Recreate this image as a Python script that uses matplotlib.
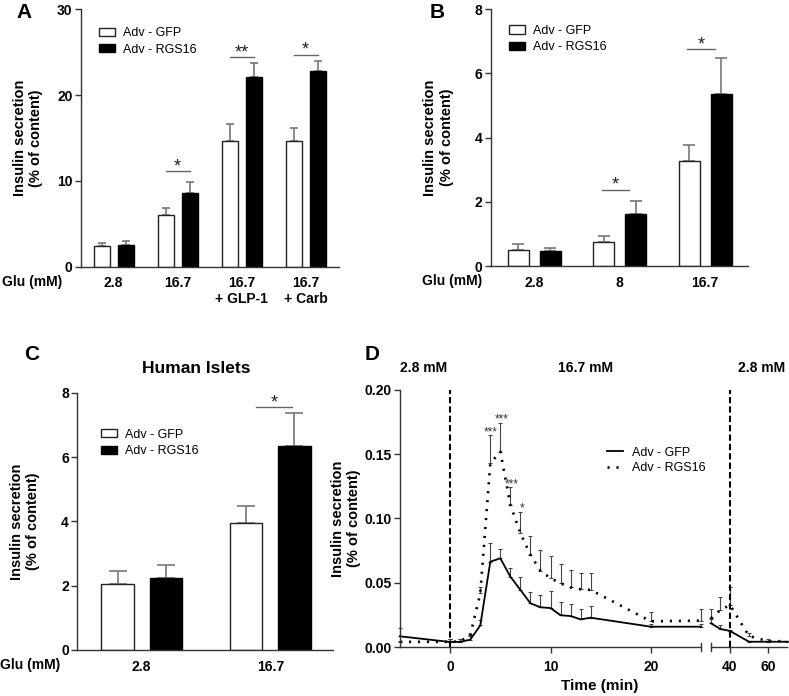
import numpy as np
import matplotlib
matplotlib.use("Agg")
import matplotlib.pyplot as plt
from matplotlib.lines import Line2D
from matplotlib.patches import Patch

plt.rcParams['font.family'] = ['Liberation Sans', 'DejaVu Sans']
plt.rcParams['font.weight'] = 'bold'

# ---- panel A ----
groups_a = ['2.8', '16.7', '16.7\n+ GLP-1', '16.7\n+ Carb']
gfp_a = [2.45, 6.0, 14.6, 14.7]
gfp_a_err = [0.27, 0.9, 2.0, 1.5]
rgs_a = [2.55, 8.55, 22.15, 22.8]
rgs_a_err = [0.4, 1.35, 1.65, 1.2]
sig_a = [(1, 11.15, '*'), (2, 24.4, '**'), (3, 24.7, '*')]

# ---- panel B ----
groups_b = ['2.8', '8', '16.7']
gfp_b = [0.50, 0.74, 3.26]
gfp_b_err = [0.175, 0.185, 0.50]
rgs_b = [0.457, 1.62, 5.37]
rgs_b_err = [0.10, 0.395, 1.10]
sig_b = [(1, 2.37, '*'), (2, 6.76, '*')]

# ---- panel C ----
groups_c = ['2.8', '16.7']
gfp_c = [2.04, 3.94]
gfp_c_err = [0.405, 0.55]
rgs_c = [2.23, 6.34]
rgs_c_err = [0.40, 1.03]
sig_c = [(1, 7.54, '*')]

# ---- panel D (perifusion) ----
t1 = [-5, 0, 1, 2, 3, 4, 5, 6, 7, 8, 9, 10, 11, 12, 13, 14, 20, 25]
gfp_d1 = [0.0083, 0.0039, 0.004, 0.0057, 0.0168, 0.0664, 0.069, 0.0547, 0.0444, 0.034,
          0.0309, 0.0303, 0.0247, 0.0241, 0.0215, 0.0228, 0.0158, 0.0158]
gfp_d1_err = [0.0067, 0.002, 0.002, 0.003, 0.004, 0.0143, 0.0073, 0.0065, 0.0103, 0.009,
              0.0096, 0.0135, 0.0106, 0.0094, 0.0081, 0.0094, 0.002, 0.002]
rgs_d1 = [0.004, 0.004, 0.0044, 0.0093, 0.0418, 0.143, 0.152, 0.1105, 0.0885, 0.0716,
          0.0594, 0.0535, 0.0496, 0.0464, 0.0449, 0.0444, 0.020, 0.0205]
rgs_d1_err = [0.001, 0.0022, 0.0018, 0.0012, 0.0052, 0.022, 0.0226, 0.0138, 0.0168, 0.015,
              0.0161, 0.0176, 0.015, 0.0135, 0.0129, 0.0129, 0.0075, 0.009]
t2 = [30, 35, 40, 50, 60, 70]
gfp_d2 = [0.0184, 0.014, 0.0125, 0.0041, 0.0041, 0.0041]
gfp_d2_err = [0.003, 0.003, 0.001, 0.0005, 0.0005, 0.0005]
rgs_d2 = [0.0223, 0.0288, 0.0327, 0.0086, 0.0045, 0.0045]
rgs_d2_err = [0.007, 0.0102, 0.0138, 0.0024, 0.0015, 0.0005]
stars_d = [(4, 0.165, '***'), (5.15, 0.1746, '***'), (6.1, 0.1243, '***'), (7.15, 0.1053, '*')]
phase_labels = ['2.8 mM', '16.7 mM', '2.8 mM']

SPINE = '#333333'
ERR = '#777777'
YLABEL = 'Insulin secretion\n(% of content)'
LEG_PROP = {'size': 9, 'weight': 'normal'}

fig = plt.figure(figsize=(7.89, 6.96), dpi=100)


def style_axis(ax):
    for s in ['top', 'right']:
        ax.spines[s].set_visible(False)
    for s in ['left', 'bottom']:
        ax.spines[s].set_color(SPINE)
        ax.spines[s].set_linewidth(1)
    ax.tick_params(axis='y', direction='out', length=4, width=1, color=SPINE,
                   labelsize=10, pad=2)


def bar_panel(rect, groups, gfp, gfp_err, rgs, rgs_err, sigs, ymax, yticks,
              capsize, leg_xy, bracket, xlim, glu_x, ylab_x):
    ax = fig.add_axes(rect)
    style_axis(ax)
    x = np.arange(len(groups))
    w = 0.25
    off = 0.1875
    ax.errorbar(x - off, gfp, yerr=[np.zeros(len(x)), gfp_err], fmt='none',
                ecolor=ERR, elinewidth=1.2, capsize=capsize, capthick=1.2, zorder=1)
    ax.errorbar(x + off, rgs, yerr=[np.zeros(len(x)), rgs_err], fmt='none',
                ecolor=ERR, elinewidth=1.2, capsize=capsize, capthick=1.2, zorder=1)
    ax.bar(x - off, gfp, w, color='white', edgecolor='#222222', linewidth=1, zorder=2)
    ax.bar(x + off, rgs, w, color='black', edgecolor='black', linewidth=1, zorder=2)
    for g, y, s in sigs:
        ax.plot([g + bracket[0], g + bracket[1]], [y, y], color='#666666', lw=1)
        ax.text(g + (bracket[0] + bracket[1]) / 2, y, s, ha='center', va='baseline',
                fontsize=13, fontweight='normal', color='#222222')
    ax.set_ylim(0, ymax)
    ax.set_yticks(yticks)
    ax.set_xlim(*xlim)
    ax.set_xticks(x)
    ax.set_xticklabels(groups, fontsize=10, linespacing=1.1)
    ax.tick_params(axis='x', length=0, pad=7)
    handles = [Patch(facecolor='white', edgecolor='#222222', label='Adv - GFP'),
               Patch(facecolor='black', edgecolor='black', label='Adv - RGS16')]
    ax.legend(handles=handles, loc='upper left', bbox_to_anchor=leg_xy, frameon=False,
              borderpad=0, borderaxespad=0, handlelength=1.3, handleheight=0.65,
              handletextpad=0.65, labelspacing=0.35, prop=LEG_PROP)
    ax.text(glu_x, -0.06, 'Glu (mM)', transform=ax.transAxes, ha='right', va='center',
            fontsize=10)
    ax.text(ylab_x, 0.5, YLABEL, transform=ax.transAxes, rotation=90, ha='center',
            va='center', fontsize=10.5, linespacing=1.2)
    return ax


ax_a = bar_panel([0.1027, 0.6168, 0.327, 0.3698], groups_a, gfp_a, gfp_a_err, rgs_a,
                 rgs_a_err, sig_a, 30, [0, 10, 20, 30], 3.2, (0.07, 0.93),
                 (-0.19, 0.19), (-0.51, 3.52), -0.0736, -0.205)

ax_b = bar_panel([0.6219, 0.6178, 0.3261, 0.3688], groups_b, gfp_b, gfp_b_err, rgs_b,
                 rgs_b_err, sig_b, 8, [0, 2, 4, 6, 8], 4.0, (0.071, 0.94),
                 (-0.21, 0.11), (-0.51, 2.50), -0.034, -0.203)

ax_c = bar_panel([0.098, 0.0661, 0.3245, 0.3697], groups_c, gfp_c, gfp_c_err, rgs_c,
                 rgs_c_err, sig_c, 8, [0, 2, 4, 6, 8], 6.2, (0.091, 0.86),
                 (-0.11, 0.17), (-0.50, 1.49), -0.068, -0.204)
ax_c.text(0.466, 1.095, 'Human Islets', transform=ax_c.transAxes, ha='center',
          va='center', fontsize=12.5)

# ---- panel D: broken time axis ----
d1 = fig.add_axes([0.507, 0.0704, 0.3815, 0.3693])
d2 = fig.add_axes([0.9011, 0.0704, 0.0963, 0.3693], sharey=d1)
style_axis(d1)
style_axis(d2)
d2.spines['left'].set_visible(False)
d2.tick_params(axis='y', left=False, labelleft=False)

dot_style = dict(color='black', lw=1.9, linestyle=(0, (0.8, 2.6)), dash_capstyle='butt')
for ax, t, g, ge, r, re in [(d1, t1, gfp_d1, gfp_d1_err, rgs_d1, rgs_d1_err),
                            (d2, t2, gfp_d2, gfp_d2_err, rgs_d2, rgs_d2_err)]:
    n = len(t)
    ax.errorbar(t, g, yerr=[np.zeros(n), ge], fmt='none', ecolor='#444444',
                elinewidth=0.8, capsize=1.5, capthick=0.8, clip_on=False)
    ax.errorbar(t, r, yerr=[np.zeros(n), re], fmt='none', ecolor='#444444',
                elinewidth=0.8, capsize=1.5, capthick=0.8, clip_on=False)
    ax.plot(t, g, color='black', lw=1.3, label='Adv - GFP', clip_on=False)
    ax.plot(t, r, label='Adv - RGS16', clip_on=False, **dot_style)

d1.set_xlim(-5, 25)
d2.set_xlim(30, 70)
d1.set_ylim(0, 0.2)
d1.set_yticks([0, 0.05, 0.10, 0.15, 0.20])
d1.set_yticklabels(['0.00', '0.05', '0.10', '0.15', '0.20'])
d1.set_xticks([0, 10, 20])
d2.set_xticks([40, 60])
for ax in (d1, d2):
    ax.tick_params(axis='x', direction='out', length=4, width=1, color=SPINE,
                   labelsize=10, pad=5)

d1.axvline(0, color='black', lw=1.5, linestyle=(0, (3, 1.5)))
d2.axvline(40, color='black', lw=1.5, linestyle=(0, (3, 1.5)))

# break marks
for ax, xb in [(d1, 25), (d2, 30)]:
    ax.plot([xb, xb], [-0.016, 0.016], color=SPINE, lw=1,
            transform=ax.get_xaxis_transform(), clip_on=False)

for t, y, s in stars_d:
    d1.text(t, y, s, ha='center', va='baseline', fontsize=8.5, fontweight='normal',
            color='#333333')

leg_handles = [Line2D([], [], color='black', lw=1.3),
               Line2D([], [], **dot_style)]
d1.legend(leg_handles, ['Adv - GFP', 'Adv - RGS16'], loc='upper left',
          bbox_to_anchor=(0.688, 0.78), frameon=False, borderpad=0, borderaxespad=0,
          handlelength=1.3, handletextpad=0.7, labelspacing=0.3, prop=LEG_PROP)

d1.text(-0.179, 0.5, YLABEL, transform=d1.transAxes, rotation=90, ha='center',
        va='center', fontsize=10.5, linespacing=1.2)

fig.text(423.5 / 789, 1 - 368 / 696, phase_labels[0], ha='center', va='center', fontsize=10)
fig.text(585.5 / 789, 1 - 368 / 696, phase_labels[1], ha='center', va='center', fontsize=10)
fig.text(761.5 / 789, 1 - 368 / 696, phase_labels[2], ha='center', va='center', fontsize=10)
fig.text(600 / 789, 1 - 686 / 696, 'Time (min)', ha='center', va='center', fontsize=11)

# panel letters
for letter, px, py in [('A', 24, 12), ('B', 437.5, 12), ('C', 32, 355), ('D', 372, 355)]:
    fig.text(px / 789, 1 - py / 696, letter, ha='center', va='center', fontsize=15)

fig.savefig('out.png', dpi=100)
